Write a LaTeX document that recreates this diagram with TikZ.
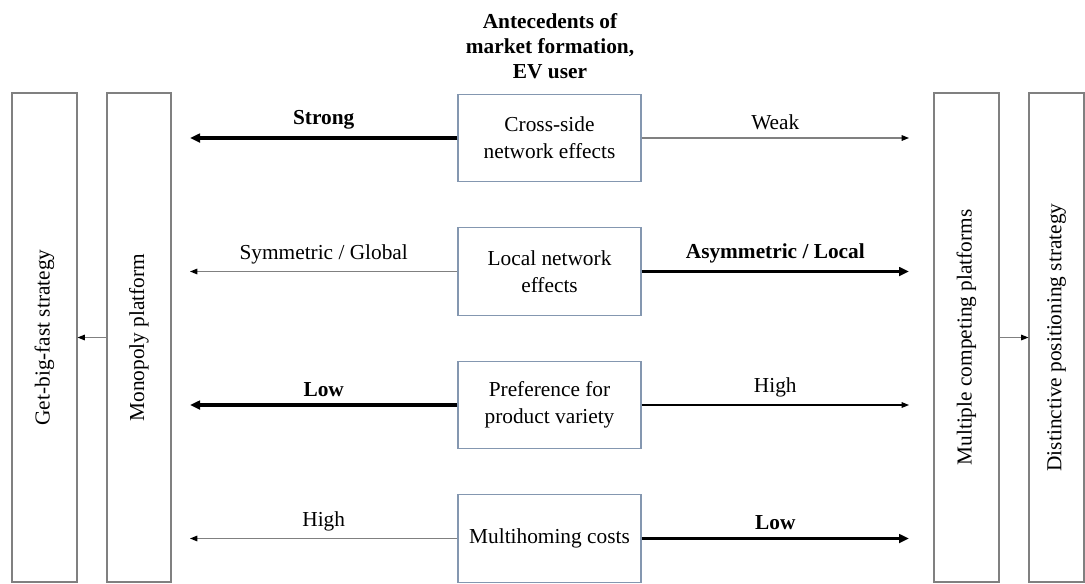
\documentclass[tikz,border=0pt]{standalone}
\usepackage{fontspec}
\setmainfont{Liberation Serif}
\usetikzlibrary{arrows.meta}
\definecolor{slateframe}{RGB}{132,151,176}
\begin{document}
\begin{tikzpicture}[x=0.75pt,y=-0.75pt,
  every node/.style={font=\fontsize{16}{20}\selectfont},
  sidebox/.style={draw=black!50, line width=0.8pt, minimum height=366.75pt, inner sep=0pt},
  factor/.style={draw=slateframe, line width=0.9pt, minimum width=137.25pt,
    minimum height=65.5pt, align=center, inner sep=2pt},
  strongarrow/.style={line width=2.4pt, -{Triangle[length=7.5pt,width=6.5pt]}},
  weakarrow/.style={line width=0.9pt, draw=black!50, -{Triangle[length=5.5pt,width=4.2pt,color=black]}},
  plainarrow/.style={line width=0.8pt, draw=black, -{Triangle[length=5.5pt,width=4.2pt]}},
  lbl/.style={above=2pt, midway}
]
\useasboundingbox (0,0) rectangle (1085,583);

% outcome columns
\node[sidebox, minimum width=48.75pt, label={[rotate=90]center:Get-big-fast strategy}] (gbf) at (44.5,337.5) {};
\node[sidebox, minimum width=48pt, label={[rotate=90]center:Monopoly platform}] (mono) at (139,337.5) {};
\node[sidebox, minimum width=48.75pt, label={[rotate=90]center:Multiple competing platforms}] (multi) at (966.5,337.5) {};
\node[sidebox, minimum width=41.25pt, label={[rotate=90]center:Distinctive positioning strategy}] (dist) at (1056.5,337.5) {};

% heading
\node[font=\fontsize{16}{19}\selectfont\bfseries, align=center] (head) at (550,46)
  {Antecedents of\\market formation,\\EV user};

% antecedent boxes
\node[factor] (cs) at (549.5,138) {Cross-side\\network effects};
\node[factor] (loc) at (549.5,271.5) {Local network\\effects};
\node[factor] (pref) at (549.5,405) {Preference for\\product variety};
\node[factor] (mh) at (549.5,538.5) {Multihoming costs};

% arrow tip columns
\coordinate (tipL) at (190,0);
\coordinate (tipR) at (909,0);

% cross-side network effects
\draw[strongarrow] (cs.west) -- (cs.west -| tipL) node[lbl] {\bfseries Strong};
\draw[weakarrow] (cs.east) -- (cs.east -| tipR) node[lbl] {Weak};

% local network effects
\draw[weakarrow] (loc.west) -- (loc.west -| tipL) node[lbl] {Symmetric / Global};
\draw[strongarrow] (loc.east) -- (loc.east -| tipR) node[lbl] {\bfseries Asymmetric / Local};

% preference for product variety
\draw[strongarrow] (pref.west) -- (pref.west -| tipL) node[lbl] {\bfseries Low};
\draw[plainarrow] (pref.east) -- (pref.east -| tipR) node[lbl] {High};

% multihoming costs
\draw[weakarrow] (mh.west) -- (mh.west -| tipL) node[lbl] {High};
\draw[strongarrow] (mh.east) -- (mh.east -| tipR) node[lbl] {\bfseries Low};

% platform outcome to strategy
\draw[weakarrow] (mono.west) -- (gbf.east);
\draw[weakarrow] (multi.east) -- (dist.west);
\end{tikzpicture}
\end{document}
